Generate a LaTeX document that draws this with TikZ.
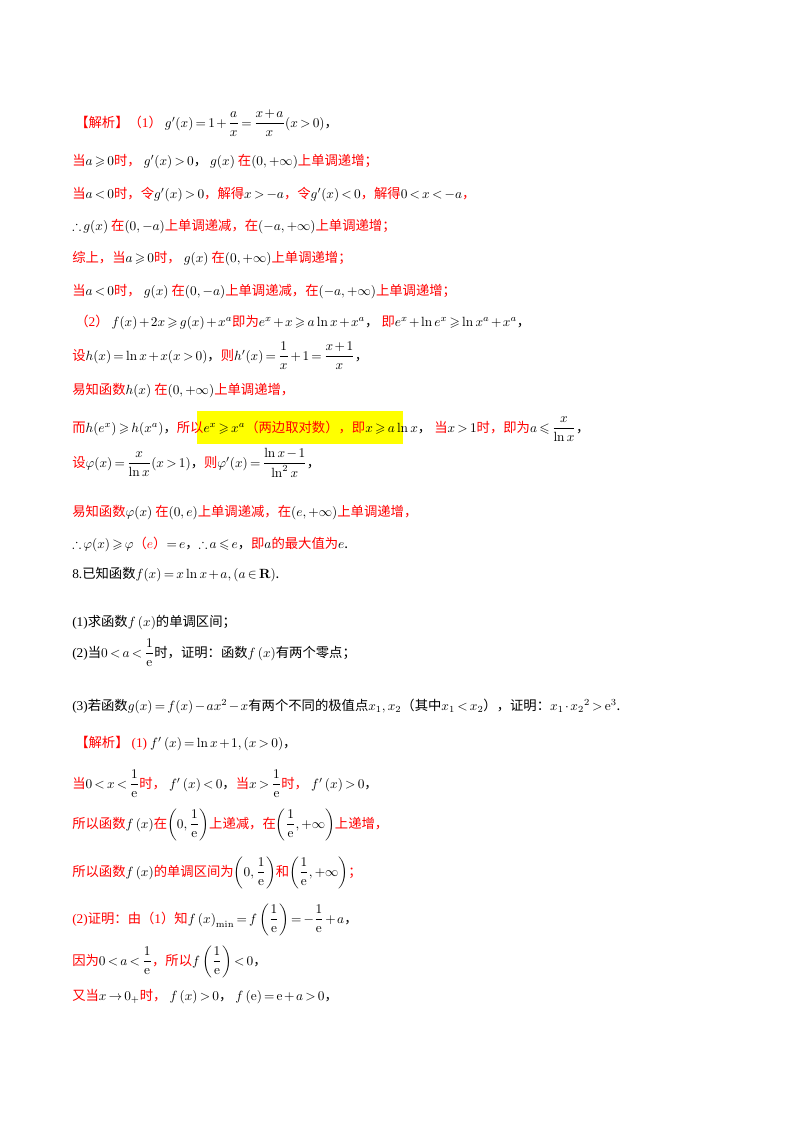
\documentclass[tikz,border=0pt]{standalone}
\usepackage{amsmath,amssymb}
\usepackage[no-math]{fontspec}
\setmainfont{Noto Sans CJK SC}
\newfontfamily\rmf{Liberation Serif}
\definecolor{rd}{RGB}{255,0,0}
\definecolor{hl}{RGB}{255,255,0}
\newcommand{\R}[1]{\textcolor{rd}{#1}}
\newcommand{\T}[1]{{\rmf #1}}
\medmuskip=2mu plus 1mu
\thickmuskip=3mu plus 2mu
\begin{document}
\begin{tikzpicture}[x=0.75pt,y=-0.75pt,
  ln/.style={anchor=base west,inner sep=0pt,font=\fontsize{10}{12}\selectfont}]
\useasboundingbox (0,0) rectangle (800,1132);
\fill[hl] (197,411) rectangle (403,444);
\node[ln] (l1) at (75,127) {\R{【解析】（\T{1}）}\ $g'(x)=1+\dfrac{a}{x}=\dfrac{x+a}{x}(x>0)$，};
\node[ln] (l2) at (72,165) {\R{当}$a\geqslant0$\R{时，} $g'(x)>0$， $g(x)$ \R{在}$(0,+\infty)$\R{上单调递增；}};
\node[ln] (l3) at (72,198) {\R{当}$a<0$\R{时，令}$g'(x)>0$\R{，解得}$x>-a$\R{，令}$g'(x)<0$\R{，解得}$0<x<-a$\R{，}};
\node[ln] (l4) at (72,230) {$\therefore g(x)$ \R{在}$(0,-a)$\R{上单调递减，在}$(-a,+\infty)$\R{上单调递增；}};
\node[ln] (l5) at (72,262) {\R{综上，当}$a\geqslant0$\R{时，} $g(x)$ \R{在}$(0,+\infty)$\R{上单调递增；}};
\node[ln] (l6) at (72,295) {\R{当}$a<0$\R{时，} $g(x)$ \R{在}$(0,-a)$\R{上单调递减，在}$(-a,+\infty)$\R{上单调递增；}};
\node[ln] (l7) at (75,326) {\R{（\T{2}）} $f(x)+2x\geqslant g(x)+x^a$\R{即为}$e^x+x\geqslant a\ln x+x^a$， \R{即}$e^x+\ln e^x\geqslant\ln x^a+x^a$，};
\node[ln] (l8) at (72,360) {\R{设}$h(x)=\ln x+x(x>0)$，\R{则}$h'(x)=\dfrac1x+1=\dfrac{x+1}{x}$，};
\node[ln] (l9) at (72,394) {\R{易知函数}$h(x)$ \R{在}$(0,+\infty)$\R{上单调递增，}};
\node[ln] (l10) at (72,432) {\R{而}$h(e^x)\geqslant h(x^a)$，\R{所以}$e^x\geqslant x^a$\R{（两边取对数），即}$x\geqslant a\ln x$， \R{当}$x>1$\R{时，即为}$a\leqslant\dfrac{x}{\ln x}$，};
\node[ln] (l11) at (72,467) {\R{设}$\varphi(x)=\dfrac{x}{\ln x}(x>1)$，\R{则}$\varphi'(x)=\dfrac{\ln x-1}{\ln^2x}$，};
\node[ln] (l12) at (72,516) {\R{易知函数}$\varphi(x)$ \R{在}$(0,e)$\R{上单调递减，在}$(e,+\infty)$\R{上单调递增，}};
\node[ln] (l13) at (72,548) {$\therefore\varphi(x)\geqslant\varphi$\R{（}\R{$e$}\R{）}$=e$，$\therefore a\leqslant e$，\R{即}$a$\R{的最大值为}$e$.};
\node[ln] (p0) at (72,578) {\T{8.}已知函数$f(x)=x\ln x+a,(a\in\mathbf R)$.};
\node[ln] (p1) at (72,626) {\T{(1)}求函数$f\left(x\right)$的单调区间；};
\node[ln] (p2) at (72,657) {\T{(2)}当$0<a<\dfrac{1}{\mathrm e}$时，证明：函数$f\left(x\right)$有两个零点；};
\node[ln] (p3) at (72,710) {\T{(3)}若函数$g(x)=f(x)-ax^2-x$有两个不同的极值点$x_1,x_2$（其中$x_1<x_2$），证明：$x_1\cdot x_2{}^2>\mathrm e^3$.};
\node[ln] (s1) at (75,747) {\R{【解析】} \R{\T{(1)}} $f'\left(x\right)=\ln x+1,\left(x>0\right)$，};
\node[ln] (s2) at (72,788) {\R{当}$0<x<\dfrac1{\mathrm e}$\R{时，} $f'\left(x\right)<0$，\R{当}$x>\dfrac1{\mathrm e}$\R{时，} $f'\left(x\right)>0$，};
\node[ln] (s3) at (72,828) {\R{所以函数}$f\left(x\right)$\R{在}$\left(0,\dfrac1{\mathrm e}\right)$\R{上递减，在}$\left(\dfrac1{\mathrm e},+\infty\right)$\R{上递增，}};
\node[ln] (s4) at (72,876) {\R{所以函数}$f\left(x\right)$\R{的单调区间为}$\left(0,\dfrac1{\mathrm e}\right)$\R{和}$\left(\dfrac1{\mathrm e},+\infty\right)$\R{；}};
\node[ln] (s5) at (72,923) {\R{\T{(2)}证明：由（\T{1}）知}$f\left(x\right)_{\min}=f\left(\dfrac1{\mathrm e}\right)=-\dfrac1{\mathrm e}+a$，};
\node[ln] (s6) at (72,965) {\R{因为}$0<a<\dfrac1{\mathrm e}$\R{，所以}$f\left(\dfrac1{\mathrm e}\right)<0$，};
\node[ln] (s7) at (72,1000) {\R{又当}$x\to0_+$\R{时，} $f\left(x\right)>0$， $f\left(\mathrm e\right)=\mathrm e+a>0$，};
\end{tikzpicture}
\end{document}
